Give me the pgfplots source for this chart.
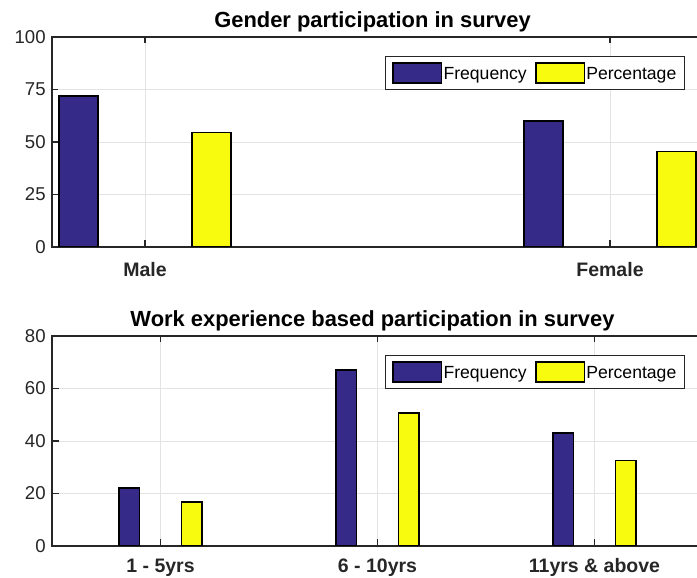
\documentclass[border=0pt]{standalone}
\usepackage{fontspec}
\setmainfont{Liberation Sans}
\usepackage{pgfplots}
\pgfplotsset{compat=1.18}
\definecolor{fcol}{RGB}{53,42,135}
\definecolor{pcol}{RGB}{249,251,14}
\definecolor{axc}{RGB}{38,38,38}
\pgfplotsset{
 mystyle/.style={
  ybar,
  scale only axis, width=651pt, height=210pt,
  axis line style={axc, line width=1.5pt},
  tick style={axc, line width=1.3pt},
  major tick length=6.5pt,
  tick align=inside,
  xtick pos=both, ytick pos=both,
  grid=major,
  major grid style={gray!22, line width=0.8pt},
  /pgf/number format/assume math mode=true,
  yticklabel style={font=\fontsize{18.6}{20}\selectfont, text=axc, xshift=-2.8pt},
  xticklabel style={font=\bfseries\fontsize{19.5}{21}\selectfont, text=axc, anchor=base},
  title style={font=\bfseries\fontsize{21.9}{24}\selectfont, text=black, at={(0.5,1)}, anchor=base, xshift=-5pt, yshift=3pt},
  legend style={at={(0.9724,0.911)}, anchor=north east, draw=axc, line width=1pt,
    font=\fontsize{17.6}{19}\selectfont, inner xsep=7pt, inner ysep=6pt,
    nodes={inner xsep=1.2pt, inner ysep=2pt},
    /tikz/every even column/.append style={column sep=7pt}},
  legend columns=2,
  legend cell align=left,
  legend image code/.code={\draw[#1, line width=1.6pt] (0pt,-8.3pt) rectangle (48.6pt,11.7pt);},
  ymin=0,
 }
}
\begin{document}
\begin{tikzpicture}
\begin{axis}[mystyle, at={(52pt,331pt)}, anchor=south west,
  title={Gender participation in survey},
  xmin=0.8, xmax=2.2, ymax=100,
  xtick={1,2}, xticklabels={Male,Female},
  xticklabel style={yshift=-30pt},
  ytick={0,25,50,75,100}]
\addplot[fill=fcol, draw=black, line width=1.8pt, bar width=0.085, bar shift=-0.143] coordinates {(1,72) (2,60)};
\addplot[fill=pcol, draw=black, line width=1.8pt, bar width=0.085, bar shift=0.143] coordinates {(1,54.5) (2,45.5)};
\legend{Frequency,Percentage}
\end{axis}
\begin{axis}[mystyle, at={(52pt,32pt)}, anchor=south west,
  title={Work experience based participation in survey},
  xmin=0.5, xmax=3.5, ymax=80,
  xtick={1,2,3}, xticklabels={1 - 5yrs,6 - 10yrs,11yrs \& above},
  xticklabel style={yshift=-27pt},
  ytick={0,20,40,60,80}]
\addplot[fill=fcol, draw=black, line width=1.8pt, bar width=0.093, bar shift=-0.143] coordinates {(1,22) (2,67) (3,43)};
\addplot[fill=pcol, draw=black, line width=1.8pt, bar width=0.093, bar shift=0.143] coordinates {(1,16.7) (2,50.8) (3,32.6)};
\legend{Frequency,Percentage}
\end{axis}
\pgfresetboundingbox
\path[use as bounding box] (0,0) rectangle (697pt,578pt);
\end{tikzpicture}
\end{document}
